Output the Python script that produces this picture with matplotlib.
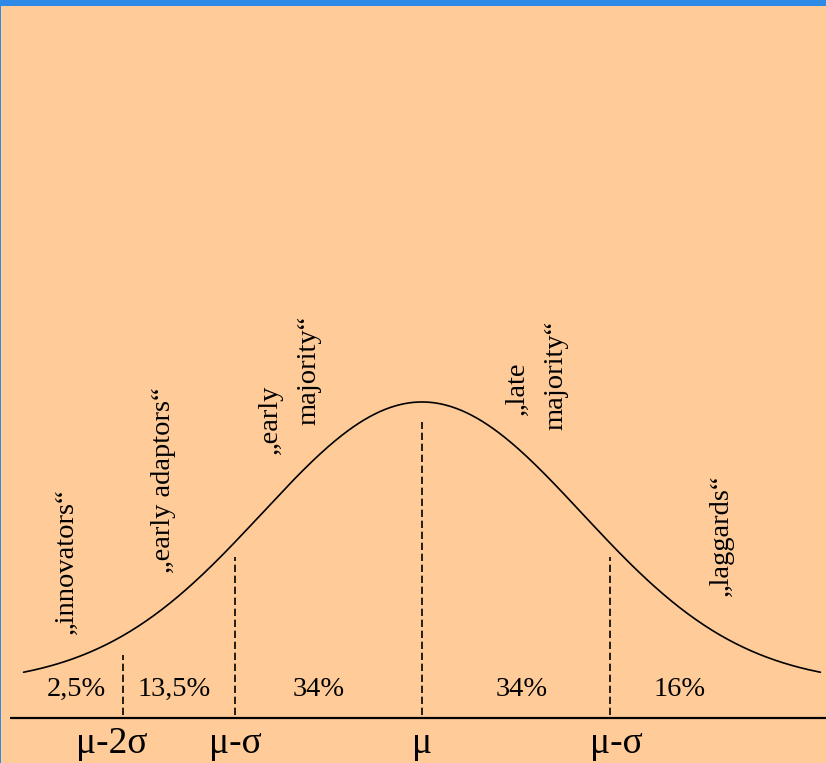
import numpy as np
import matplotlib
matplotlib.use("Agg")
import matplotlib.pyplot as plt
from matplotlib.patches import Rectangle

# ---- data (x in sigma units, y in density units) ----
mu = 0.0
sigma = 1.0
curve_range = [-2.49, 2.49]

boundaries = [-1.869, -1.169, 0.0, 1.175]
boundary_tops = [0.0423, 0.1804, 0.3707, 0.1804]
boundary_bottom = -0.0423

share_labels = ["2,5%", "13,5%", "34%", "34%", "16%"]
share_x = [-2.1625, -1.55, -0.644, 0.625, 1.609]

tick_labels = ["μ-2σ", "μ-σ", "μ", "μ-σ"]

group_lines = ["„innovators“", "„early adaptors“", "„early", "majority“",
               "„late", "majority“", "„laggards“"]
group_x = [-2.181, -1.575, -0.906, -0.669, 0.6375, 0.875, 1.9125]
group_y = [0.1748, 0.289, 0.375, 0.444, 0.4187, 0.437, 0.2114]

BG = "#FFCC99"
BLUE = "#2E8AE6"
SERIF = ["Liberation Serif", "DejaVu Serif"]

fig = plt.figure(figsize=(8.26, 7.63), dpi=100, facecolor=BG)
ax = fig.add_axes([0, 0, 1, 1])
ax.set_facecolor("none")
ax.set_xlim(-2.6375, 2.525)
ax.set_ylim(-0.110, 0.9656)
ax.axis("off")

# bell curve
xs = np.linspace(curve_range[0], curve_range[1], 600)
ys = np.exp(-0.5 * ((xs - mu) / sigma) ** 2) / (sigma * np.sqrt(2 * np.pi))
ax.plot(xs, ys, color="black", lw=1.2, solid_capstyle="round")

# baseline axis
ax.plot([-2.575, 2.6], [-0.0465, -0.0465], color="black", lw=1.6,
        solid_capstyle="butt", clip_on=False)

# dashed boundaries
for bx, top in zip(boundaries, boundary_tops):
    ax.plot([bx, bx], [boundary_bottom, top], color="black", lw=1.2,
            linestyle=(0, (4.4, 2.2)))

# share labels
for lbl, x in zip(share_labels, share_x):
    ax.text(x, -0.0155, lbl, ha="center", va="baseline", fontsize=20.5,
            family=SERIF, color="black")

# tick labels under boundaries
for lbl, bx in zip(tick_labels, boundaries):
    ax.text(bx - 0.07 if lbl == "μ-2σ" else bx + (0.04 if bx > 0 else 0.0),
            -0.0959, lbl, ha="center", va="baseline", fontsize=27,
            family=SERIF, color="black")

# rotated group labels
for lbl, x, y in zip(group_lines, group_x, group_y):
    ax.text(x, y, lbl, rotation=90, rotation_mode="anchor", ha="center",
            va="baseline", fontsize=20.5, family=SERIF, color="black")

# frame decorations: top blue bar and thin left edge
fig.patches.append(Rectangle((0, 1 - 6 / 763), 1, 6 / 763, transform=fig.transFigure,
                             facecolor=BLUE, edgecolor="none", zorder=10))
fig.patches.append(Rectangle((0, 0), 1.2 / 826, 1, transform=fig.transFigure,
                             facecolor=BLUE, edgecolor="none", zorder=10))

fig.savefig("out.png", dpi=100, facecolor=BG)
